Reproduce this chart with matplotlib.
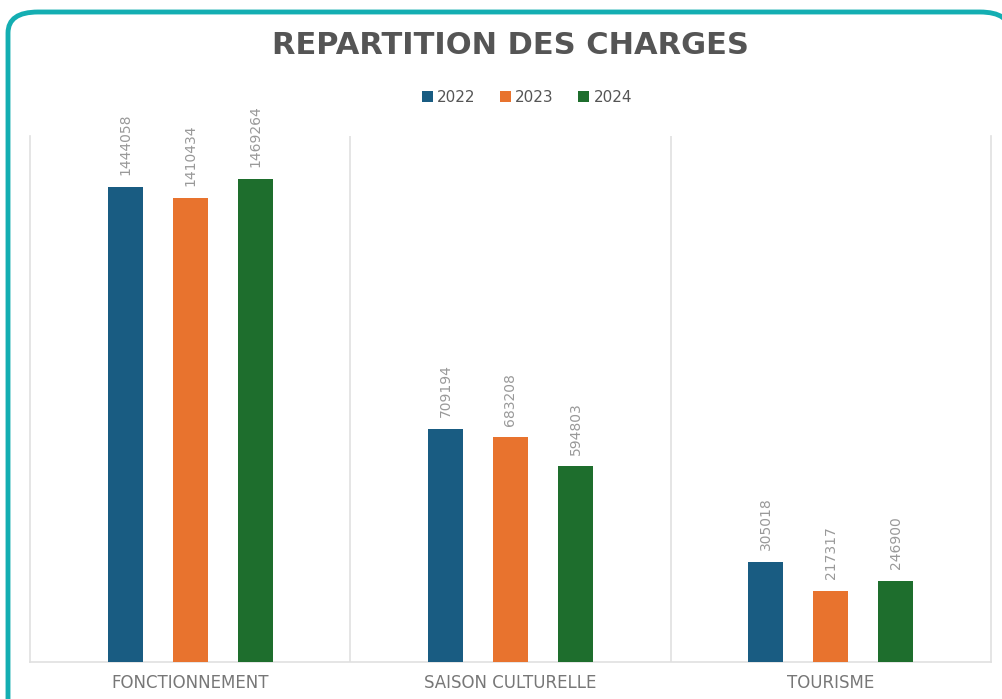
import matplotlib.pyplot as plt
from matplotlib.patches import FancyBboxPatch
import numpy as np

categories = ['FONCTIONNEMENT', 'SAISON CULTURELLE', 'TOURISME']
years = ['2022', '2023', '2024']
v2022 = [1444058, 709194, 305018]
v2023 = [1410434, 683208, 217317]
v2024 = [1469264, 594803, 246900]
colors = ['#195C82', '#E8732E', '#1E6E2D']

W, H = 1003, 699
fig = plt.figure(figsize=(W / 100, H / 100), dpi=100)

# teal rounded frame
frame = FancyBboxPatch((8 / W, -0.05), (1010 - 8) / W, (H - 12) / H + 0.05,
                       boxstyle='round,pad=0,rounding_size=0.03',
                       transform=fig.transFigure, facecolor='white',
                       edgecolor='#14AEB2', linewidth=3.5, zorder=-10)
fig.patches.append(frame)

ax = fig.add_axes([30 / W, (H - 662) / H, 961 / W, (662 - 136) / H])
ax.set_facecolor('none')

x = np.arange(len(categories))
off = 0.203
bw = 0.11
for i, (vals, lab) in enumerate(zip([v2022, v2023, v2024], years)):
    pos = x + (i - 1) * off
    ax.bar(pos, vals, bw, color=colors[i], label=lab, zorder=3)
    for p, v in zip(pos, vals):
        ax.text(p, v + 36000, str(v), rotation=90, ha='center', va='bottom',
                fontsize=10, color='#999999', family='DejaVu Sans')

ax.set_xlim(-0.5, 2.5)
ax.set_ylim(0, 1600000)
for b in [0.5, 1.5]:
    ax.axvline(b, color='#E0E0E0', lw=1.2, zorder=1)
ax.spines['top'].set_visible(False)
for s in ['left', 'right', 'bottom']:
    ax.spines[s].set_color('#E0E0E0')
    ax.spines[s].set_linewidth(1.2)
ax.set_yticks([])
ax.set_xticks(x)
ax.set_xticklabels(categories)
ax.tick_params(axis='x', length=0, pad=9, labelsize=12, labelcolor='#777777')

fig.text(510 / W, (H - 45) / H, 'REPARTITION DES CHARGES', ha='center', va='center',
         fontsize=22, fontweight='bold', color='#555555', family='DejaVu Sans')

ax.legend(loc='center', bbox_to_anchor=(527 / W, (H - 97) / H), bbox_transform=fig.transFigure,
          ncol=3, frameon=False, handlelength=0.7, handleheight=0.7,
          handletextpad=0.3, columnspacing=1.6, labelcolor='#555555',
          prop={'family': 'DejaVu Sans', 'size': 11})

fig.savefig('out.png', dpi=100)
